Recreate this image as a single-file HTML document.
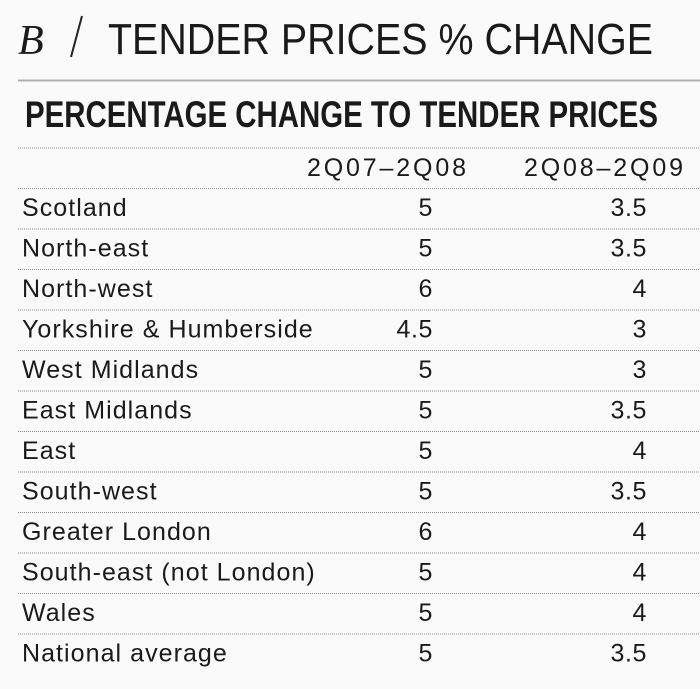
<!DOCTYPE html>
<html><head><meta charset="utf-8"><style>
html,body{margin:0;padding:0;background:#fafafa;}
svg{display:block}
text{font-family:"Liberation Sans",sans-serif;fill:#1a1a1a}
</style></head><body>
<svg width="700" height="689" viewBox="0 0 700 689" xmlns="http://www.w3.org/2000/svg">
<rect width="700" height="689" fill="#fafafa"/>
<text x="18" y="54" font-family="Liberation Serif" font-style="italic" font-size="42" style="font-family:'Liberation Serif',serif">B</text>
<line x1="82" y1="16" x2="71" y2="57" stroke="#222" stroke-width="2"/>
<text x="108" y="54" font-size="44" textLength="545" lengthAdjust="spacingAndGlyphs" style="font-weight:300">TENDER PRICES % CHANGE</text>
<line x1="18" y1="80.5" x2="700" y2="80.5" stroke="#b0b0b0" stroke-width="2"/>
<text x="25" y="127" font-size="37" font-weight="bold" textLength="633" lengthAdjust="spacingAndGlyphs" fill="#000">PERCENTAGE CHANGE TO TENDER PRICES</text>
<g stroke="#888" stroke-width="1" stroke-dasharray="1,1">
<line x1="18" y1="148" x2="700" y2="148"/>
<line x1="18" y1="188.5" x2="700" y2="188.5"/>
<line x1="18" y1="229" x2="700" y2="229"/>
<line x1="18" y1="269.5" x2="700" y2="269.5"/>
<line x1="18" y1="310" x2="700" y2="310"/>
<line x1="18" y1="350.5" x2="700" y2="350.5"/>
<line x1="18" y1="391" x2="700" y2="391"/>
<line x1="18" y1="431.5" x2="700" y2="431.5"/>
<line x1="18" y1="472" x2="700" y2="472"/>
<line x1="18" y1="512.5" x2="700" y2="512.5"/>
<line x1="18" y1="553" x2="700" y2="553"/>
<line x1="18" y1="593.5" x2="700" y2="593.5"/>
<line x1="18" y1="634" x2="700" y2="634"/>
</g>
<g font-size="25">
<text x="307" y="176" textLength="159" lengthAdjust="spacing">2Q07–2Q08</text>
<text x="524" y="176" textLength="159" lengthAdjust="spacing">2Q08–2Q09</text>
</g>
<g font-size="25" letter-spacing="1.05">
<text x="22" y="216">Scotland</text>
<text x="22" y="256.5">North-east</text>
<text x="22" y="297">North-west</text>
<text x="22" y="337.5">Yorkshire &amp; Humberside</text>
<text x="22" y="378">West Midlands</text>
<text x="22" y="418.5">East Midlands</text>
<text x="22" y="459">East</text>
<text x="22" y="499.5">South-west</text>
<text x="22" y="540">Greater London</text>
<text x="22" y="580.5">South-east (not London)</text>
<text x="22" y="621">Wales</text>
<text x="22" y="661.5">National average</text>
</g>
<g font-size="25" letter-spacing="0.6" text-anchor="end">
<text x="433" y="216">5</text><text x="647" y="216">3.5</text>
<text x="433" y="256.5">5</text><text x="647" y="256.5">3.5</text>
<text x="433" y="297">6</text><text x="647" y="297">4</text>
<text x="433" y="337.5">4.5</text><text x="647" y="337.5">3</text>
<text x="433" y="378">5</text><text x="647" y="378">3</text>
<text x="433" y="418.5">5</text><text x="647" y="418.5">3.5</text>
<text x="433" y="459">5</text><text x="647" y="459">4</text>
<text x="433" y="499.5">5</text><text x="647" y="499.5">3.5</text>
<text x="433" y="540">6</text><text x="647" y="540">4</text>
<text x="433" y="580.5">5</text><text x="647" y="580.5">4</text>
<text x="433" y="621">5</text><text x="647" y="621">4</text>
<text x="433" y="661.5">5</text><text x="647" y="661.5">3.5</text>
</g>
</svg>
</body></html>
